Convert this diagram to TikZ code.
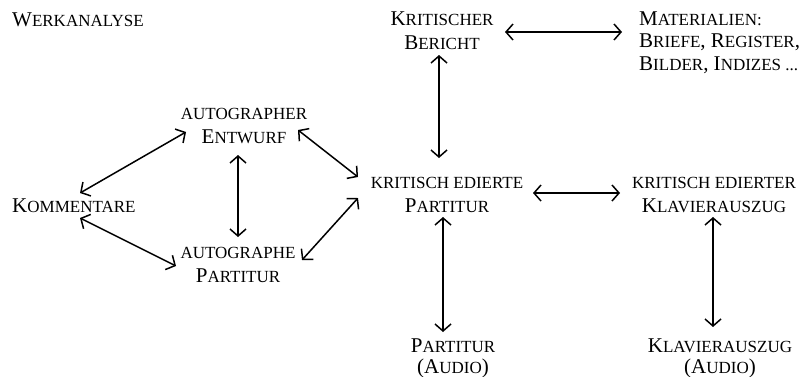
\documentclass[tikz,border=0pt]{standalone}
\usepackage{fontspec}
\setmainfont{Liberation Serif}
\usetikzlibrary{arrows.meta}
\newcommand\sm[1]{{\fontsize{17}{24}\selectfont #1}}
\tikzset{
  lbl/.style={font=\fontsize{21}{24}\selectfont, inner sep=0pt, align=center, anchor=base},
  arr/.style={line width=1.5pt, {Straight Barb[length=7pt,width=16pt]}-{Straight Barb[length=7pt,width=16pt]}}
}
\begin{document}
\begin{tikzpicture}[x=1pt,y=-1pt]
\useasboundingbox (0,0) rectangle (802,376);
\node[lbl, anchor=base west] (wa) at (12,26) {W\sm{ERKANALYSE}};
\node[lbl] (ber) at (442,49) {K\sm{RITISCHER}\\B\sm{ERICHT}};
\node[lbl, anchor=base west, align=left, font=\fontsize{21}{22.5}\selectfont] (mat) at (639,70)
  {M\sm{ATERIALIEN:}\\B\sm{RIEFE}, R\sm{EGISTER},\\B\sm{ILDER}, I\sm{NDIZES ...}};
\node[lbl] (ent) at (244,143) {\sm{AUTOGRAPHER}\\E\sm{NTWURF}};
\node[lbl, anchor=base west] (kom) at (12,212) {K\sm{OMMENTARE}};
\node[lbl] (agp) at (238,282) {\sm{AUTOGRAPHE}\\P\sm{ARTITUR}};
\node[lbl] (kep) at (447,212) {\sm{KRITISCH EDIERTE}\\P\sm{ARTITUR}};
\node[lbl] (kek) at (714,212) {\sm{KRITISCH EDIERTER}\\K\sm{LAVIERAUSZUG}};
\node[lbl, font=\fontsize{21}{21}\selectfont] (pa) at (453,373) {P\sm{ARTITUR}\\(A\sm{UDIO})};
\node[lbl, font=\fontsize{21}{21}\selectfont] (ka) at (720,373) {K\sm{LAVIERAUSZUG}\\(A\sm{UDIO})};

\draw[arr] ([shift={(63,-17)}]ber.base) -- ([shift={(-17,-38)}]mat.base west);
\draw[arr] ([shift={(-3,6)}]ber.base) -- ([shift={(-8,-54)}]kep.base);
\draw[arr] ([shift={(-58,-11)}]ent.base) -- ([shift={(68,-19)}]kom.base west);
\draw[arr] ([shift={(68,6)}]kom.base west) -- ([shift={(-62,-16)}]agp.base);
\draw[arr] ([shift={(-6,12)}]ent.base) -- ([shift={(0,-45)}]agp.base);
\draw[arr] ([shift={(54,-13)}]ent.base) -- ([shift={(-89,-35)}]kep.base);
\draw[arr] ([shift={(64,-22)}]agp.base) -- ([shift={(-89,-14)}]kep.base);
\draw[arr] ([shift={(86,-19)}]kep.base) -- ([shift={(-94,-19)}]kek.base);
\draw[arr] ([shift={(-4,5)}]kep.base) -- ([shift={(-10,-41)}]pa.base);
\draw[arr] ([shift={(-1,5)}]kek.base) -- ([shift={(-7,-46)}]ka.base);
\end{tikzpicture}
\end{document}
